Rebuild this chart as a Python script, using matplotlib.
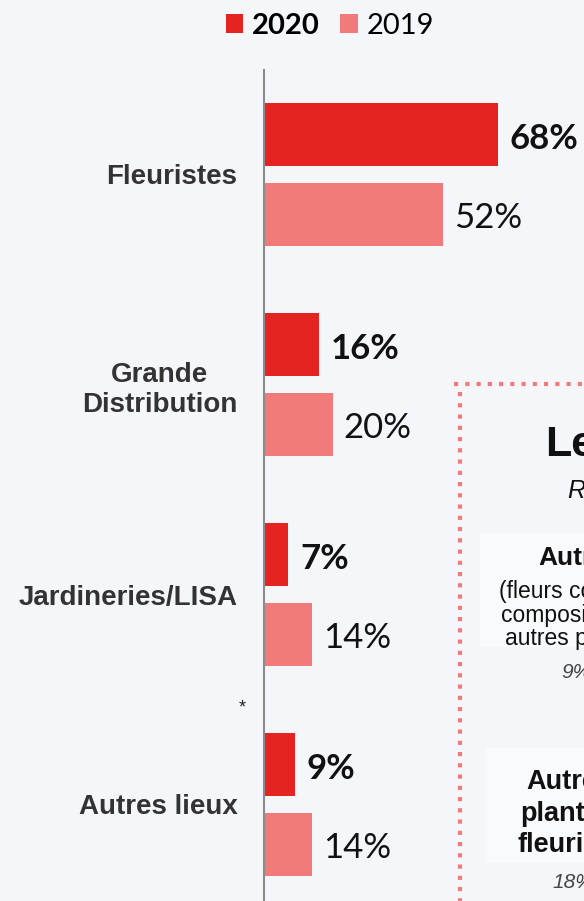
import matplotlib.pyplot as plt
import numpy as np

categories = ['Fleuristes', 'Grande\nDistribution', 'Jardineries/LISA', 'Autres lieux']
v2020 = [68, 16, 7, 9]
v2019 = [52, 20, 14, 14]
years = ['2020', '2019']

c2020 = '#e52421'
c2019 = '#f07b7a'
bg = '#f4f6f9'

W, H = 584, 901
fig = plt.figure(figsize=(W / 100, H / 100), dpi=100)
fig.patch.set_facecolor(bg)

# decoration layer in pixel coordinates (dotted box on the right)
deco = fig.add_axes([0, 0, 1, 1], zorder=0)
deco.set_xlim(0, W)
deco.set_ylim(H, 0)
deco.axis('off')
deco.plot([454, W], [384, 384], color=c2019, lw=3, ls=(0, (1, 1.7)), solid_capstyle='butt')
deco.plot([460, 460], [392, H], color=c2019, lw=3, ls=(0, (1, 1.7)), solid_capstyle='butt')
deco.add_patch(plt.Rectangle((480, 533), 120, 114, color='white', alpha=0.45, lw=0))
deco.add_patch(plt.Rectangle((486, 748), 120, 115, color='white', alpha=0.45, lw=0))

sans = 'Liberation Sans'
deco.text(545, 456, 'Les', fontsize=31, fontweight='bold', family=sans, color='#111111')
deco.text(567, 498, 'Ré', fontsize=18, style='italic', family=sans, color='#111111')
deco.text(538, 565, 'Autres', fontsize=19, fontweight='bold', family=sans, color='#111111')
deco.text(499, 598, '(fleurs co', fontsize=16.5, family=sans, color='#111111')
deco.text(501, 622, 'composi', fontsize=16.5, family=sans, color='#111111')
deco.text(505, 645, 'autres p', fontsize=16.5, family=sans, color='#111111')
deco.text(561, 678, '9%', fontsize=15, style='italic', family=sans, color='#444444')
deco.text(526, 789, 'Autres', fontsize=19.5, fontweight='bold', family=sans, color='#111111')
deco.text(520, 821, 'plante', fontsize=19.5, fontweight='bold', family=sans, color='#111111')
deco.text(517, 852, 'fleurie', fontsize=19.5, fontweight='bold', family=sans, color='#111111')
deco.text(552, 888, '18%', fontsize=15, style='italic', family=sans, color='#444444')
deco.text(242, 712, '*', fontsize=13, family=sans, color='#222222', ha='center')

# bar chart
ax = fig.add_axes([264 / W, 0, (W - 264) / W, (H - 70) / H], zorder=1)
ax.patch.set_alpha(0)
pos = np.arange(len(categories))
off, bh = 0.19, 0.30
b1 = ax.barh(pos - off, v2020, height=bh, color=c2020)
b2 = ax.barh(pos + off, v2019, height=bh, color=c2019)
ax.set_xlim(0, (W - 264) / 3.44)
ax.set_ylim((H - 174.5) / 210, -(174.5 - 70) / 210)

for y, v in zip(pos - off, v2020):
    ax.annotate(f'{v}%', xy=(v, y), xytext=(12, -4), textcoords='offset pixels',
                va='center', ha='left', fontsize=25, fontweight='bold',
                family='Lato', color='#111111')
for y, v in zip(pos + off, v2019):
    ax.annotate(f'{v}%', xy=(v, y), xytext=(11, -4), textcoords='offset pixels',
                va='center', ha='left', fontsize=25, fontweight='normal',
                family='Lato', color='#111111')

ax.set_yticks(pos)
ax.set_yticklabels(categories, fontsize=20, fontweight='bold', family=sans,
                   color='#333333', multialignment='center', linespacing=1.25)
ax.tick_params(axis='y', length=0, pad=19)
ax.set_xticks([])
for s in ['top', 'right', 'bottom']:
    ax.spines[s].set_visible(False)
ax.spines['left'].set_color('#8c8c8c')
ax.spines['left'].set_linewidth(1.5)

leg = fig.legend([b1, b2], years, loc='center', bbox_to_anchor=(330 / W, 1 - 26 / H),
                 ncol=2, frameon=False, handlelength=0.6, handleheight=0.6,
                 handletextpad=0.3, columnspacing=0.7, prop={'family': 'Lato', 'size': 21})
leg.get_texts()[0].set_fontweight('bold')
leg.get_texts()[1].set_fontweight('normal')

fig.savefig('out.png', dpi=100, facecolor=bg)
